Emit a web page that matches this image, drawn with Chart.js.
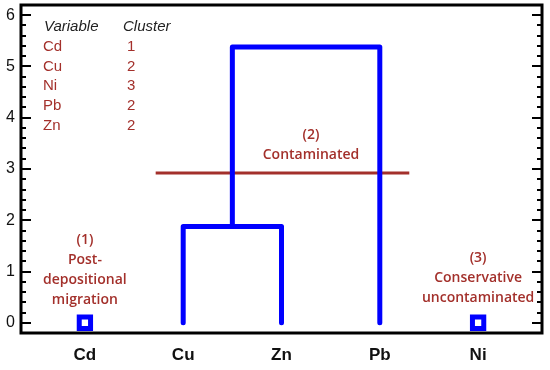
<!DOCTYPE html>
<html>
<head>
<meta charset="utf-8">
<script src="https://cdn.jsdelivr.net/npm/chart.js@4/dist/chart.umd.min.js"></script>
<style>
  html, body { margin: 0; padding: 0; background: #fff; }
  #wrap { width: 550px; height: 370px; }
</style>
</head>
<body>
<div id="wrap"><canvas id="dendro"></canvas></div>
<script>
// elementos no eixo x (ordem do dendrograma)
var variables = ['Cd', 'Cu', 'Zn', 'Pb', 'Ni'];
// tabela de clusters
var tableVars = ['Cd', 'Cu', 'Ni', 'Pb', 'Zn'];
var tableClusters = ['1', '2', '3', '2', '2'];
// alturas de ligacao
var linkCuZn = 1.88;
var linkTop = 5.38;
var cutHeight = 2.92;
var cutFrom = 0.72, cutTo = 3.30;
// grupos isolados (x, altura)
var singles = [[0, 0], [4, 0]];
var yTicks = [0, 1, 2, 3, 4, 5, 6];

var blue = '#0000ff';
var red = '#a3302b';

var pairLink = [
  { x: 1, y: 0 }, { x: 1, y: linkCuZn }, { x: 2, y: linkCuZn }, { x: 2, y: 0 }
];
var topLink = [
  { x: 1.5, y: linkCuZn }, { x: 1.5, y: linkTop }, { x: 3, y: linkTop }, { x: 3, y: 0 }
];
var cutLine = [{ x: cutFrom, y: cutHeight }, { x: cutTo, y: cutHeight }];

// moldura + ticks internos
var framePlugin = {
  id: 'frame',
  afterDatasetsDraw: function(chart) {
    var c = chart.ctx, a = chart.chartArea, ys = chart.scales.y;
    c.save();
    c.strokeStyle = '#000';
    c.lineWidth = 3;
    c.strokeRect(a.left, a.top, a.right - a.left, a.bottom - a.top);
    c.lineWidth = 2;
    for (var v = 0; v <= 6.001; v += 0.2) {
      var py = Math.round(ys.getPixelForValue(v));
      var major = Math.abs(v - Math.round(v)) < 0.01;
      var len = major ? 10 : 5;
      c.beginPath();
      c.moveTo(a.left, py); c.lineTo(a.left + len, py);
      c.moveTo(a.right, py); c.lineTo(a.right - len, py);
      c.stroke();
    }
    c.restore();
  }
};

// textos
var textPlugin = {
  id: 'texts',
  afterDraw: function(chart) {
    var c = chart.ctx, xs = chart.scales.x, ys = chart.scales.y;
    c.save();
    c.textBaseline = 'middle';
    // tabela
    c.textAlign = 'left';
    c.fillStyle = '#222';
    c.font = 'italic 15px "Liberation Sans", Arial, sans-serif';
    c.fillText('Variable', 44, 27);
    c.fillText('Cluster', 123, 27);
    c.font = '15px "Liberation Sans", Arial, sans-serif';
    c.fillStyle = red;
    for (var i = 0; i < tableVars.length; i++) {
      var ty = 47 + i * 19.6;
      c.fillText(tableVars[i], 43, ty);
      c.fillText(tableClusters[i], 127, ty);
    }
    // rotulos dos grupos
    c.textAlign = 'center';
    c.font = '600 14px "Open Sans", sans-serif';
    function block(xv, yv, lines) {
      var px = xs.getPixelForValue(xv), py = ys.getPixelForValue(yv);
      lines.forEach(function(t, k) { c.fillText(t, px, py + k * 20); });
    }
    block(0, 1.62, ['(1)', 'Post-', 'depositional', 'migration']);
    block(2.3, 3.67, ['(2)', 'Contaminated']);
    block(4, 1.27, ['(3)', 'Conservative', 'uncontaminated']);
    c.restore();
  }
};

function noPad(s) {
  s.paddingTop = 0; s.paddingBottom = 0; s.paddingLeft = 0; s.paddingRight = 0;
}

var ctx = document.getElementById('dendro');
new Chart(ctx, {
  type: 'scatter',
  data: {
    datasets: [
      { data: pairLink, showLine: true, borderColor: blue, borderWidth: 5, pointRadius: 0,
        borderCapStyle: 'round', borderJoinStyle: 'round' },
      { data: topLink, showLine: true, borderColor: blue, borderWidth: 5, pointRadius: 0,
        borderCapStyle: 'round', borderJoinStyle: 'round' },
      { data: cutLine, showLine: true, borderColor: red, borderWidth: 3, pointRadius: 0 },
      { data: singles.map(function(s) { return { x: s[0], y: s[1] }; }),
        pointStyle: 'rect', pointRadius: 8, borderWidth: 5,
        borderColor: blue, backgroundColor: '#fff' }
    ]
  },
  options: {
    responsive: true,
    maintainAspectRatio: false,
    animation: false,
    layout: { autoPadding: false, padding: { top: 5, right: 8, left: 0, bottom: 0 } },
    plugins: { legend: { display: false }, tooltip: { enabled: false } },
    scales: {
      x: {
        type: 'linear', min: -0.65, max: 4.65,
        afterFit: function(s) { s.height = 37; noPad(s); },
        afterBuildTicks: function(s) {
          s.ticks = variables.map(function(v, i) { return { value: i }; });
        },
        ticks: {
          padding: 12,
          color: '#111',
          font: { family: '"Liberation Sans", Arial, sans-serif', size: 17, weight: 'bold' },
          callback: function(v) { return variables[v]; }
        },
        grid: { display: false, drawTicks: false },
        border: { display: false }
      },
      y: {
        min: -0.2, max: 6.2,
        afterFit: function(s) { s.width = 21; noPad(s); },
        afterBuildTicks: function(s) {
          s.ticks = yTicks.map(function(v) { return { value: v }; });
        },
        ticks: {
          padding: 6,
          color: '#111',
          font: { family: '"Liberation Sans", Arial, sans-serif', size: 16 }
        },
        grid: { display: false, drawTicks: false },
        border: { display: false }
      }
    }
  },
  plugins: [framePlugin, textPlugin]
});
</script>
</body>
</html>
